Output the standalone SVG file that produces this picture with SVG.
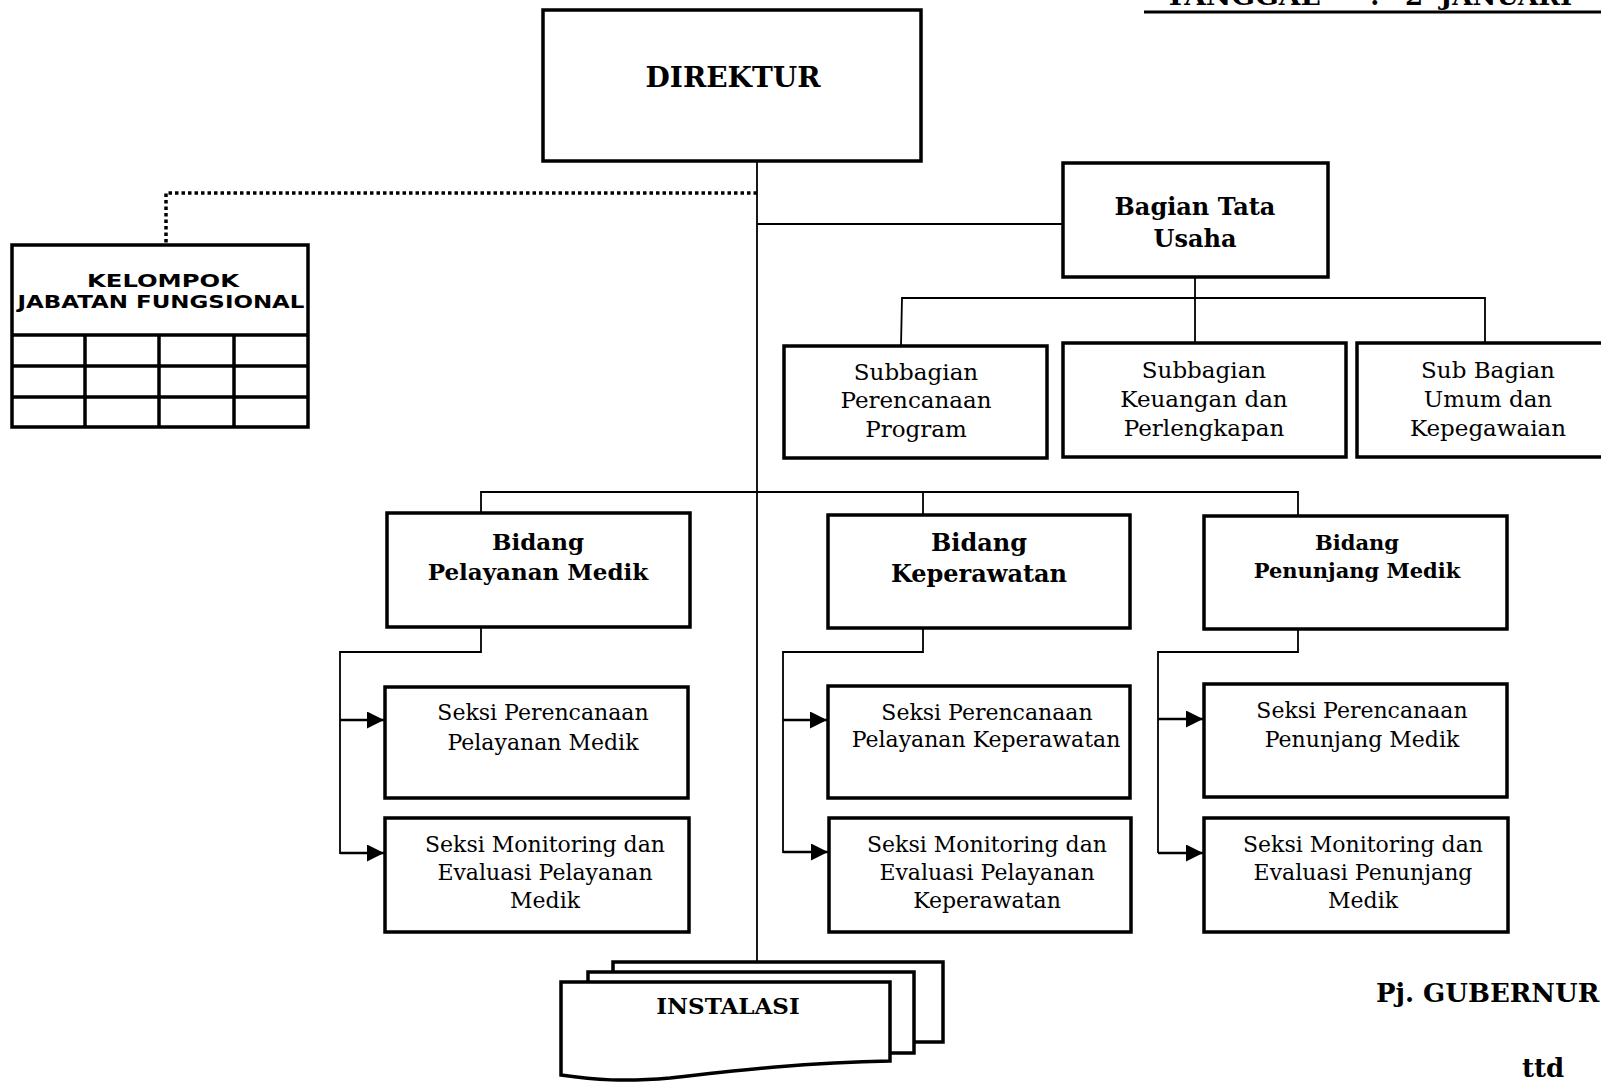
<svg xmlns="http://www.w3.org/2000/svg" width="1601" height="1082" viewBox="0 0 1601 1082">
<style>
.box{fill:#fff;stroke:#000;stroke-width:3.5}
.ln{fill:none;stroke:#000;stroke-width:1.8}
.arl{fill:none;stroke:#000;stroke-width:2.5}
.dot{fill:none;stroke:#000;stroke-width:3.5;stroke-dasharray:3.5 3}
.b{font-family:"DejaVu Serif",serif;font-weight:bold;text-anchor:middle;fill:#000}
.bl{font-family:"DejaVu Serif",serif;font-weight:bold;text-anchor:start;fill:#000}
.r{font-family:"DejaVu Serif",serif;text-anchor:middle;fill:#000}
.s{font-family:"DejaVu Sans","Liberation Sans",sans-serif;font-weight:bold;text-anchor:middle;fill:#000}
</style>
<defs>
<marker id="arr" markerWidth="18" markerHeight="18" refX="17" refY="8.5" orient="auto" markerUnits="userSpaceOnUse">
<path d="M0,0 L17,8.5 L0,17 Z" fill="#000"/>
</marker>
</defs>
<rect width="1601" height="1082" fill="#fff"/>

<g id="header">
<text class="bl" x="1165" y="5" font-size="26" textLength="155" lengthAdjust="spacingAndGlyphs">TANGGAL</text>
<text class="bl" x="1370" y="5" font-size="26">:</text>
<text class="bl" x="1405" y="5" font-size="26">2</text>
<text class="bl" x="1440" y="5" font-size="26">JANUARI</text>
<line x1="1144" y1="12" x2="1601" y2="12" stroke="#000" stroke-width="3"/>
</g>

<g id="connectors">
<line class="ln" x1="757" y1="161" x2="757" y2="962"/>
<polyline class="dot" points="757,193 166,193 166,245"/>
<line class="ln" x1="757" y1="224" x2="1063" y2="224"/>
<polyline class="ln" points="1195,277 1195,344"/>
<polyline class="ln" points="901,346 902,298 1485,298 1485,343"/>
<polyline class="ln" points="481,513 481,492 1298,492 1298,516"/>
<line class="ln" x1="923" y1="492" x2="923" y2="515"/>
<polyline class="ln" points="481,627 481,652 340,652 340,854"/>
<line class="arl" x1="340" y1="720" x2="384" y2="720" marker-end="url(#arr)"/>
<line class="arl" x1="340" y1="853" x2="384" y2="853" marker-end="url(#arr)"/>
<polyline class="ln" points="923,628 923,652 783,652 783,853"/>
<line class="arl" x1="783" y1="720" x2="827" y2="720" marker-end="url(#arr)"/>
<line class="arl" x1="783" y1="852" x2="828" y2="852" marker-end="url(#arr)"/>
<polyline class="ln" points="1298,629 1298,652 1158,652 1158,853"/>
<line class="arl" x1="1158" y1="719" x2="1203" y2="719" marker-end="url(#arr)"/>
<line class="arl" x1="1158" y1="853" x2="1203" y2="853" marker-end="url(#arr)"/>
</g>

<g id="direktur">
<rect class="box" x="543" y="10" width="378" height="151"/>
<text class="b" x="733" y="87" font-size="28">DIREKTUR</text>
</g>

<g id="kelompok">
<rect class="box" x="12" y="245" width="296" height="182"/>
<line x1="12" y1="335" x2="308" y2="335" stroke="#000" stroke-width="3.5"/>
<line x1="12" y1="366" x2="308" y2="366" stroke="#000" stroke-width="3.5"/>
<line x1="12" y1="397" x2="308" y2="397" stroke="#000" stroke-width="3.5"/>
<line x1="85" y1="335" x2="85" y2="427" stroke="#000" stroke-width="3.5"/>
<line x1="159" y1="335" x2="159" y2="427" stroke="#000" stroke-width="3.5"/>
<line x1="234" y1="335" x2="234" y2="427" stroke="#000" stroke-width="3.5"/>
<text class="s" x="163" y="287" font-size="17" textLength="152" lengthAdjust="spacingAndGlyphs">KELOMPOK</text>
<text class="s" x="161" y="308" font-size="17" textLength="287" lengthAdjust="spacingAndGlyphs">JABATAN FUNGSIONAL</text>
</g>

<g id="bagian-tata-usaha">
<rect class="box" x="1063" y="163" width="265" height="114"/>
<text class="b" x="1195" y="215" font-size="24">Bagian Tata</text>
<text class="b" x="1195" y="247" font-size="24">Usaha</text>
</g>

<g id="subbag-perencanaan">
<rect class="box" x="784" y="346" width="263" height="112"/>
<text class="r" x="916" y="380" font-size="23">Subbagian</text>
<text class="r" x="916" y="408" font-size="23">Perencanaan</text>
<text class="r" x="916" y="437" font-size="23">Program</text>
</g>

<g id="subbag-keuangan">
<rect class="box" x="1063" y="343" width="283" height="114"/>
<text class="r" x="1204" y="378" font-size="23">Subbagian</text>
<text class="r" x="1204" y="407" font-size="23">Keuangan dan</text>
<text class="r" x="1204" y="436" font-size="23">Perlengkapan</text>
</g>

<g id="subbag-umum">
<rect class="box" x="1357" y="343" width="260" height="114"/>
<text class="r" x="1488" y="378" font-size="23">Sub Bagian</text>
<text class="r" x="1488" y="407" font-size="23">Umum dan</text>
<text class="r" x="1488" y="436" font-size="23">Kepegawaian</text>
</g>

<g id="bidang-pelayanan-medik">
<rect class="box" x="387" y="513" width="303" height="114"/>
<text class="b" x="538" y="550" font-size="23">Bidang</text>
<text class="b" x="538" y="580" font-size="23">Pelayanan Medik</text>
</g>

<g id="bidang-keperawatan">
<rect class="box" x="828" y="515" width="302" height="113"/>
<text class="b" x="979" y="551" font-size="24">Bidang</text>
<text class="b" x="979" y="582" font-size="24">Keperawatan</text>
</g>

<g id="bidang-penunjang-medik">
<rect class="box" x="1204" y="516" width="303" height="113"/>
<text class="b" x="1357" y="550" font-size="21">Bidang</text>
<text class="b" x="1357" y="578" font-size="21">Penunjang Medik</text>
</g>

<g id="seksi-perencanaan-pm">
<rect class="box" x="385" y="687" width="303" height="111"/>
<text class="r" x="543" y="720" font-size="22">Seksi Perencanaan</text>
<text class="r" x="543" y="750" font-size="22">Pelayanan Medik</text>
</g>

<g id="seksi-monev-pm">
<rect class="box" x="385" y="818" width="304" height="114"/>
<text class="r" x="545" y="852" font-size="22">Seksi Monitoring dan</text>
<text class="r" x="545" y="880" font-size="22">Evaluasi Pelayanan</text>
<text class="r" x="545" y="908" font-size="22">Medik</text>
</g>

<g id="seksi-perencanaan-kep">
<rect class="box" x="828" y="686" width="302" height="112"/>
<text class="r" x="987" y="720" font-size="22">Seksi Perencanaan</text>
<text class="r" x="986" y="747" font-size="22">Pelayanan Keperawatan</text>
</g>

<g id="seksi-monev-kep">
<rect class="box" x="829" y="818" width="302" height="114"/>
<text class="r" x="987" y="852" font-size="22">Seksi Monitoring dan</text>
<text class="r" x="987" y="880" font-size="22">Evaluasi Pelayanan</text>
<text class="r" x="987" y="908" font-size="22">Keperawatan</text>
</g>

<g id="seksi-perencanaan-pen">
<rect class="box" x="1204" y="684" width="303" height="113"/>
<text class="r" x="1362" y="718" font-size="22">Seksi Perencanaan</text>
<text class="r" x="1362" y="747" font-size="22">Penunjang Medik</text>
</g>

<g id="seksi-monev-pen">
<rect class="box" x="1204" y="818" width="304" height="114"/>
<text class="r" x="1363" y="852" font-size="22">Seksi Monitoring dan</text>
<text class="r" x="1363" y="880" font-size="22">Evaluasi Penunjang</text>
<text class="r" x="1363" y="908" font-size="22">Medik</text>
</g>

<g id="instalasi">
<rect class="box" x="613" y="962" width="330" height="80"/>
<rect class="box" x="588" y="972" width="326" height="81"/>
<path class="box" d="M561,982 H890 V1061 C810,1062 730,1071 670,1078 C625,1082 595,1080 561,1075 Z"/>
<text class="b" x="728" y="1014" font-size="23">INSTALASI</text>
</g>

<g id="signature">
<text class="bl" x="1376" y="1002" font-size="26">Pj. GUBERNUR</text>
<text class="bl" x="1522" y="1077" font-size="26">ttd</text>
</g>
</svg>
